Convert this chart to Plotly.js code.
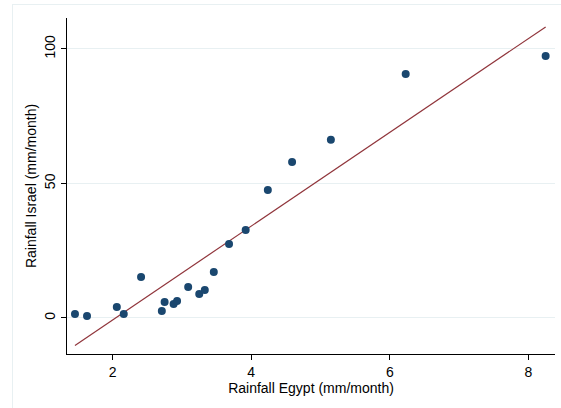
<!DOCTYPE html>
<html>
<head>
<meta charset="utf-8">
<script src="https://cdn.plot.ly/plotly-3.0.1.min.js"></script>
<style>
  html, body { margin: 0; padding: 0; background: #fff; }
  #frame { position: absolute; left: 12px; top: 4px; width: 600px; height: 500px;
           border-left: 1px solid #e8f0f2; border-top: 1px solid #e8f0f2; }
  #chart { position: absolute; left: 0; top: 0; width: 561px; height: 408px; }
</style>
</head>
<body>
<div id="frame"></div>
<div id="chart"></div>
<script>
// Rainfall data
const egypt  = [1.456, 1.63, 2.06, 2.16, 2.41, 2.71, 2.75, 2.88, 2.93, 3.09, 3.25, 3.33, 3.46, 3.68, 3.92, 4.24, 4.59, 5.15, 6.23, 8.25];
const israel = [1.5, 0.7, 4.1, 1.5, 15.2, 2.6, 5.9, 5.2, 6.3, 11.5, 8.9, 10.4, 17.1, 27.5, 32.7, 47.6, 58.0, 66.2, 90.7, 97.4];
// Fitted line endpoints
const fitX = [1.456, 8.25];
const fitY = [-10.2, 108.2];
const xTicks = [2, 4, 6, 8];
const yTicks = [0, 50, 100];

const traces = [
  { x: fitX, y: fitY, type: 'scatter', mode: 'lines',
    line: { color: '#90353b', width: 1.2 }, hoverinfo: 'skip' },
  { x: egypt, y: israel, type: 'scatter', mode: 'markers',
    marker: { color: '#1a476f', size: 8 } }
];

const font = { family: 'Liberation Sans, Arial, Helvetica, sans-serif', size: 14, color: '#000' };

const layout = {
  width: 561, height: 408,
  margin: { l: 67, r: 6, t: 18, b: 54 },
  paper_bgcolor: 'rgba(0,0,0,0)', plot_bgcolor: '#fff',
  showlegend: false,
  font: font,
  xaxis: {
    range: [1.341, 8.385], tickvals: xTicks, ticktext: xTicks.map(String),
    ticks: 'outside', ticklen: 5, tickcolor: '#000', tickwidth: 1,
    showline: true, linecolor: '#000', linewidth: 1,
    showgrid: false, zeroline: false,
    title: { text: 'Rainfall Egypt (mm/month)', font: font, standoff: 2 },
    tickfont: font
  },
  yaxis: {
    range: [-13.4, 111.5], tickvals: yTicks, ticktext: yTicks.map(String),
    ticks: 'outside', ticklen: 5, tickcolor: '#000', tickwidth: 1,
    tickangle: -90,
    showline: true, linecolor: '#000', linewidth: 1,
    showgrid: true, gridcolor: '#e8f0f2', gridwidth: 1, zeroline: false,
    title: { text: 'Rainfall Israel (mm/month)', font: font, standoff: 2 },
    tickfont: font
  }
};

Plotly.newPlot('chart', traces, layout, { displayModeBar: false, staticPlot: true });
</script>
</body>
</html>
